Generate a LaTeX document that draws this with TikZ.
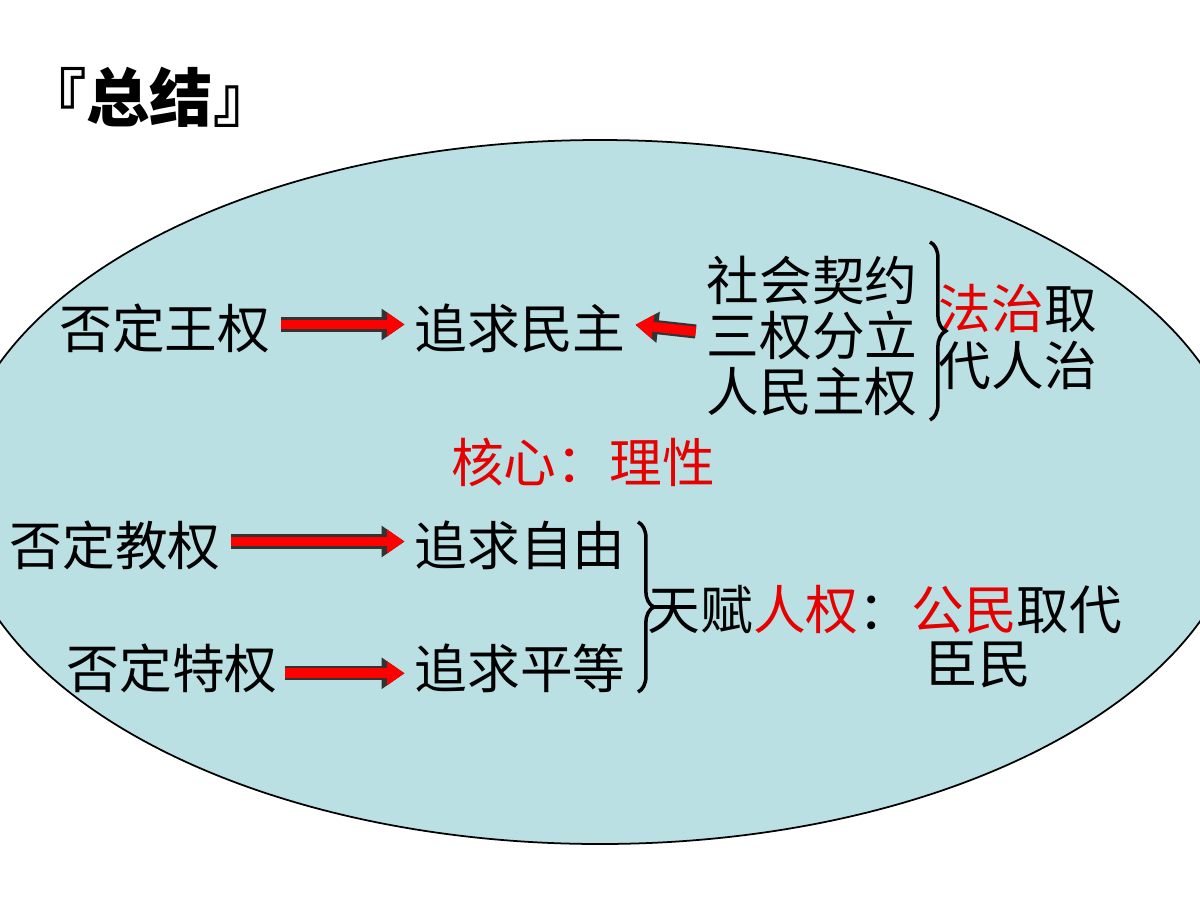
\documentclass[tikz,border=0pt]{standalone}
\usepackage{fontspec}
\setmainfont{Noto Sans CJK SC}
\usetikzlibrary{arrows.meta,decorations.pathreplacing}
\definecolor{bg}{RGB}{186,224,227}
\definecolor{rd}{RGB}{230,0,0}
\tikzset{
 t/.style={font=\fontsize{30}{32}\selectfont, inner sep=0pt, anchor=center},
 blk/.style={preaction={draw=black!80, line width=8pt, -{Triangle[length=13pt,width=17pt]}}, draw=red, line width=5.5pt, -{Triangle[length=10pt,width=13pt]}, shorten >=1.5pt},
 br/.style={decorate, decoration={brace, amplitude=9pt}, line width=2pt}
}
\begin{document}
\begin{tikzpicture}[x=0.02cm,y=-0.02cm]
\useasboundingbox (0,0) rectangle (1200,900);
\fill[white] (0,0) rectangle (1200,900);
\begin{scope}
\clip (0,0) rectangle (1200,900);
\draw[fill=bg, line width=1pt] (600,492) ellipse [x radius=645, y radius=352];
\end{scope}
\node[t, font=\fontsize{36}{40}\selectfont\bfseries] (title) at (150,97) {『总结』};
\node[t] (a1) at (165,328) {否定王权};
\node[t] (b1) at (520,328) {追求民主};
\node[t] (c1) at (812,280) {社会契约};
\node[t] (c2) at (812,335) {三权分立};
\node[t] (c3) at (812,392) {人民主权};
\node[t] (d1) at (1018,308) {\textcolor{rd}{法治}取};
\node[t] (d2) at (1018,365) {代人治};
\node[t, text=rd] (core) at (583,462) {核心：理性};
\node[t] (a2) at (115,545) {否定教权};
\node[t] (b2) at (520,545) {追求自由};
\node[t] (a3) at (172,668) {否定特权};
\node[t] (b3) at (520,668) {追求平等};
\node[t] (e1) at (885,610) {天赋\textcolor{rd}{人权}：\textcolor{rd}{公民}取代};
\node[t] (e2) at (978,665) {臣民};
\coordinate (br1t) at (930,242);
\coordinate (br1b) at (930,420);
\coordinate (br2t) at (638,522);
\coordinate (br2b) at (638,692);
\draw[br] (br1t) -- (br1b);
\draw[br] (br2t) -- (br2b);
\draw[blk] ([xshift=6pt,yshift=2pt]a1.east) -- ([xshift=-4pt,yshift=2pt]b1.west);
\draw[blk] ([xshift=-6pt,yshift=2pt]c2.west) -- ([xshift=4pt,yshift=2pt]b1.east);
\draw[blk] ([xshift=6pt,yshift=2pt]a2.east) -- ([xshift=-4pt,yshift=2pt]b2.west);
\draw[blk] ([xshift=4pt,yshift=-3pt]a3.east) -- ([xshift=-4pt,yshift=-3pt]b3.west);
\end{tikzpicture}
\end{document}
